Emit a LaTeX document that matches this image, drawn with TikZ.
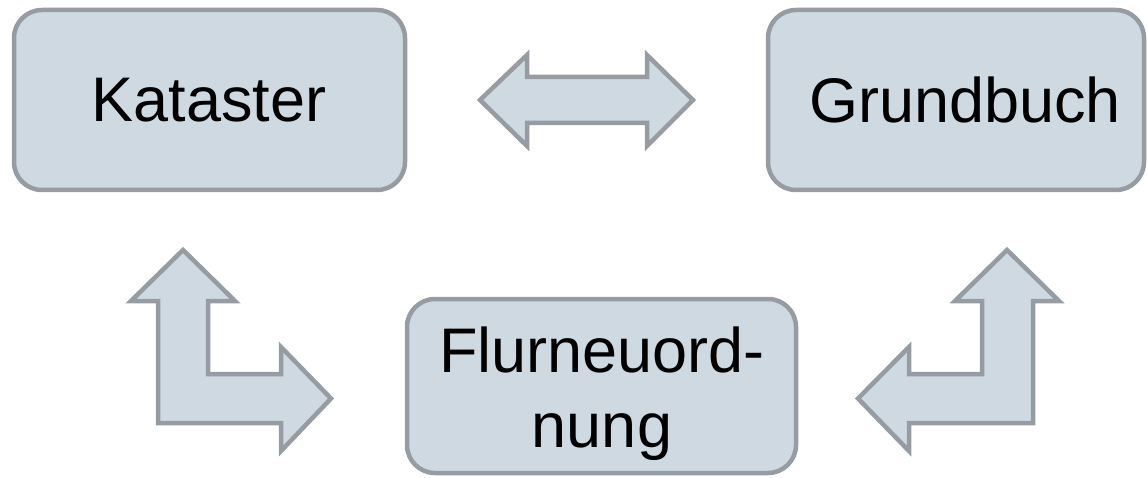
\documentclass[tikz,border=0pt]{standalone}
\usepackage{fontspec}
\setmainfont{Liberation Sans}
\definecolor{boxfill}{RGB}{207,217,226}
\definecolor{boxline}{RGB}{150,156,161}
\begin{document}
\begin{tikzpicture}[x=1pt,y=-1pt,
  box/.style={draw=boxline, fill=boxfill, line width=4.5pt, rounded corners=28pt, inner sep=0pt},
  lbl/.style={font=\fontsize{63}{75}\selectfont, inner sep=0pt, align=center},
  blockarrow/.style={draw=boxline, fill=boxfill, line width=4.5pt, line join=miter}]
\useasboundingbox (0,0) rectangle (1147,478);
% boxes
\node[box, minimum width=391pt, minimum height=180pt] (kat) at (209.5,100) {};
\node[lbl] (kattext) at (209,100) {Kataster};
\node[box, minimum width=376pt, minimum height=180pt] (grund) at (956,100) {};
\node[lbl] (grundtext) at (965,100) {Grundbuch};
\node[box, minimum width=389pt, minimum height=174pt] (flur) at (601.5,386) {};
\node[lbl] (flurtext) at (602,393.5) {Flurneuord-\\nung};
% double arrow between Kataster and Grundbuch
\draw[blockarrow] (480,100) -- (527,55) -- (527,77) -- (647,77) -- (647,55) -- (693,100)
  -- (647,146) -- (647,123) -- (527,123) -- (527,146) -- cycle;
% left L-arrow
\draw[blockarrow] (183,250) -- (235,301) -- (208,301) -- (208,374) -- (281,374) -- (281,347)
  -- (331,398.5) -- (281,451) -- (281,423) -- (158,423) -- (158,301) -- (131,301) -- cycle;
% right L-arrow
\draw[blockarrow] (1007,250) -- (1059,301) -- (1033,301) -- (1033,423) -- (909,423) -- (909,451)
  -- (858,398.5) -- (909,347) -- (909,374) -- (982,374) -- (982,301) -- (955,301) -- cycle;
\end{tikzpicture}
\end{document}
